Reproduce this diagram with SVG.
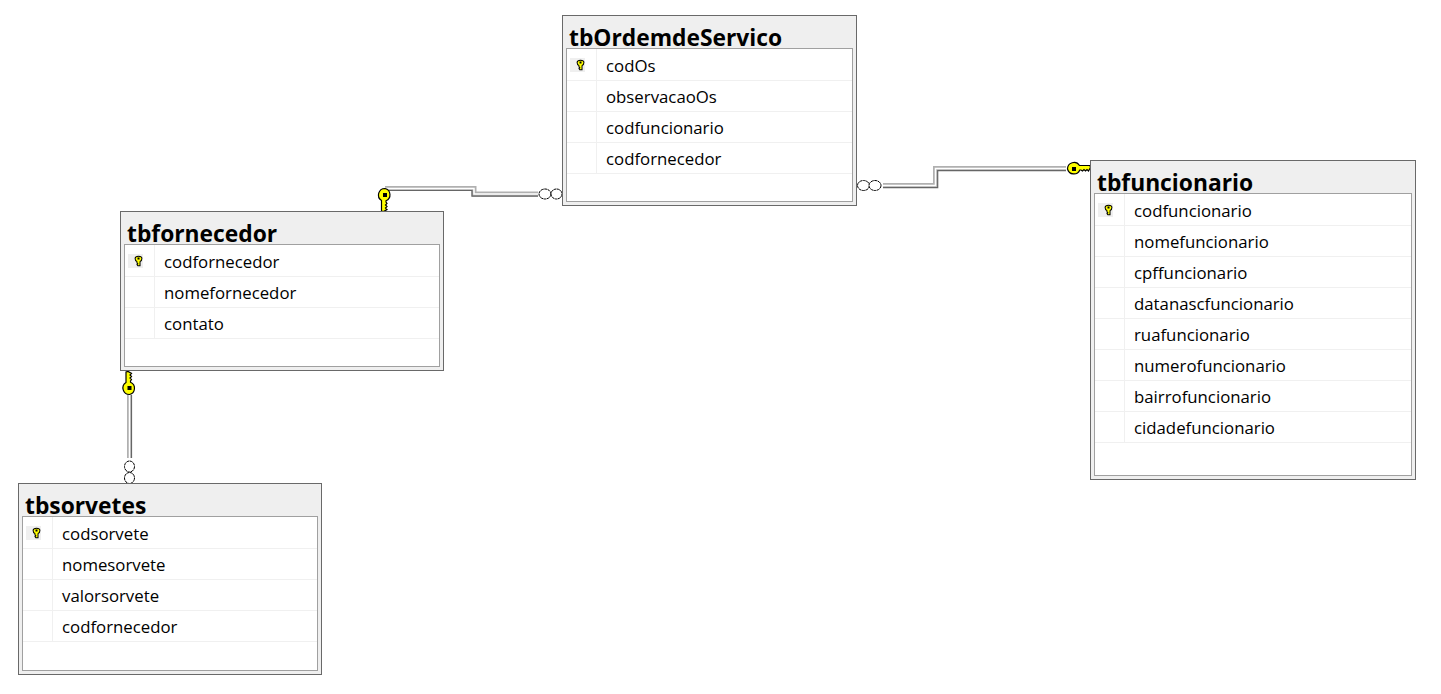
<svg xmlns="http://www.w3.org/2000/svg" width="1441" height="694" viewBox="0 0 1441 694">
<style>
.outer{fill:#efefef;stroke:#696969;stroke-width:1}
.inner{fill:#fff;stroke:#a0a0a0;stroke-width:1}
.sep{stroke:#f0f0f0;stroke-width:1;fill:none}
.title{font:700 22.800px "Open Sans","Noto Sans",sans-serif;fill:#000}
.row{font:400 16.800px "Open Sans","Noto Sans",sans-serif;fill:#000}
.hl{fill:#efefef}
.w1{fill:none;stroke:#b0b0b0;stroke-width:5}
.w2{fill:none;stroke:#fff;stroke-width:1.500}
.w3{fill:none;stroke:#666;stroke-width:1.200}
.ring{fill:#fff;stroke:#000;stroke-width:1;stroke-dasharray:3 .5}
.key{fill:#ffff00;stroke:#000;stroke-width:1.200;stroke-linejoin:miter}
.dot{fill:#000}
</style>
<defs>
<g id="bigkey"><path class="key" d="M-6.500 0A6.500 6.500 0 0 1 5.500-3.500H16L16.500-1.500 14.500 2 13 .5 11.500 2 10 .5 8.500 2 7 1H5.800A6.500 6.500 0 0 1-6.500 0z"/><rect class="dot" x="-2" y="-2" width="4" height="4"/></g>
<g id="smallkey"><path transform="scale(.85)" d="M-4-3Q-4-5.500 0-5.500T4-3 1.800 .8V5.500H-.8L-1.800 4.300-.8 3.300-1.800 2.300-1.800 .8Q-4-.5-4-3z" class="key"/><rect class="dot" x="-1" y="-3.500" width="2" height="2"/></g>
</defs>
<rect width="1441" height="694" fill="#fff"/>
<g id="connectors">
<g id="rel-os-fornecedor"><path class="w1" d="M385 188.500H474V194H538"/><path class="w3" d="M385 190.500H472V196.200H538"/><path class="w2" d="M385 188.500H474V194H538"/><ellipse class="ring" cx="545" cy="194" rx="6" ry="5"/><ellipse class="ring" cx="556.500" cy="194" rx="5.500" ry="5"/></g>
<g id="rel-os-funcionario"><path class="w1" d="M883 185.500H935.500V168.500H1066"/><path class="w3" d="M883 187.700H937.700V170.700H1066"/><path class="w2" d="M883 185.500H935.500V168.500H1066"/><ellipse class="ring" cx="863.500" cy="185.500" rx="6" ry="5"/><ellipse class="ring" cx="875" cy="185.500" rx="6" ry="5"/></g>
<g id="rel-fornecedor-sorvetes"><path class="w1" d="M129.500 395V458"/><path class="w3" d="M131.500 395V458"/><path class="w2" d="M129.500 395V458"/><ellipse class="ring" cx="129.500" cy="466.500" rx="5" ry="5.500"/><ellipse class="ring" cx="129.500" cy="478" rx="5" ry="5.500"/></g>
<use href="#bigkey" transform="translate(1074 169)"/>
<use href="#bigkey" transform="translate(385 195) rotate(90) scale(1 -1)"/>
<use href="#bigkey" transform="translate(129.500 388) rotate(-90)"/>
</g>
<g id="tbOrdemdeServico">
<rect class="outer" x="562.500" y="15.500" width="294" height="190"/><rect class="inner" x="566.500" y="48.500" width="286" height="153"/>
<path class="sep" d="M567 80.500H852M567 111.500H852M567 142.500H852M567 173.500H852M596.500 49V173"/>
<rect class="hl" x="570" y="58" width="15" height="14"/><use href="#smallkey" transform="translate(580.500 65)"/>
<text class="title" x="569" y="46">tbOrdemdeServico</text>
<text class="row" x="606" y="71.500">codOs</text><text class="row" x="606" y="102.500">observacaoOs</text><text class="row" x="606" y="133.500">codfuncionario</text><text class="row" x="606" y="164.500">codfornecedor</text>
</g>
<g id="tbfuncionario">
<rect class="outer" x="1090.500" y="160.500" width="325" height="319"/><rect class="inner" x="1094.500" y="193.500" width="317" height="282"/>
<path class="sep" d="M1095 225.500H1411M1095 256.500H1411M1095 287.500H1411M1095 318.500H1411M1095 349.500H1411M1095 380.500H1411M1095 411.500H1411M1095 442.500H1411M1124.500 194V442"/>
<rect class="hl" x="1098" y="203" width="15" height="14"/><use href="#smallkey" transform="translate(1108.500 210)"/>
<text class="title" x="1097" y="191">tbfuncionario</text>
<text class="row" x="1134" y="216.500">codfuncionario</text><text class="row" x="1134" y="247.500">nomefuncionario</text><text class="row" x="1134" y="278.500">cpffuncionario</text><text class="row" x="1134" y="309.500">datanascfuncionario</text><text class="row" x="1134" y="340.500">ruafuncionario</text><text class="row" x="1134" y="371.500">numerofuncionario</text><text class="row" x="1134" y="402.500">bairrofuncionario</text><text class="row" x="1134" y="433.500">cidadefuncionario</text>
</g>
<g id="tbfornecedor">
<rect class="outer" x="120.500" y="211.500" width="323" height="159"/><rect class="inner" x="124.500" y="244.500" width="315" height="122"/>
<path class="sep" d="M125 276.500H439M125 307.500H439M125 338.500H439M154.500 245V338"/>
<rect class="hl" x="128" y="254" width="15" height="14"/><use href="#smallkey" transform="translate(138.500 261)"/>
<text class="title" x="127" y="242">tbfornecedor</text>
<text class="row" x="164" y="267.500">codfornecedor</text><text class="row" x="164" y="298.500">nomefornecedor</text><text class="row" x="164" y="329.500">contato</text>
</g>
<g id="tbsorvetes">
<rect class="outer" x="18.500" y="483.500" width="303" height="191"/><rect class="inner" x="22.500" y="516.500" width="295" height="154"/>
<path class="sep" d="M23 548.500H317M23 579.500H317M23 610.500H317M23 641.500H317M52.500 517V641"/>
<rect class="hl" x="26" y="526" width="15" height="14"/><use href="#smallkey" transform="translate(36.500 533)"/>
<text class="title" x="25" y="514">tbsorvetes</text>
<text class="row" x="62" y="539.500">codsorvete</text><text class="row" x="62" y="570.500">nomesorvete</text><text class="row" x="62" y="601.500">valorsorvete</text><text class="row" x="62" y="632.500">codfornecedor</text>
</g>
</svg>
